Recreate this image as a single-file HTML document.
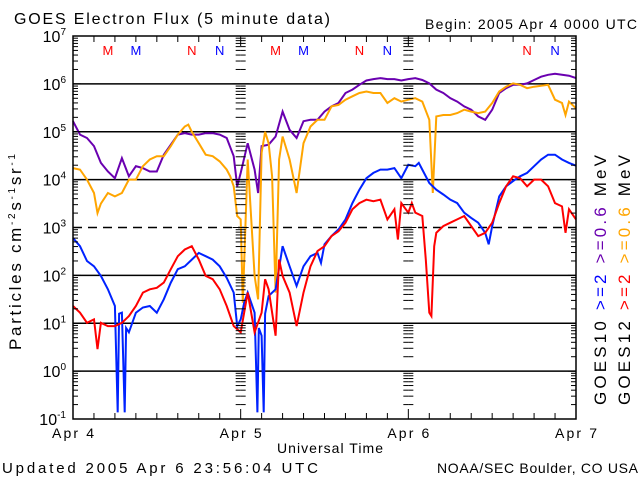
<!DOCTYPE html>
<html><head><meta charset="utf-8">
<style>
html,body{margin:0;padding:0;background:#fff;}
svg{display:block;font-family:"Liberation Sans",sans-serif;}
</style></head>
<body>
<svg id="chart" width="640" height="480" viewBox="0 0 640 480">
  <text x="14" y="24" font-size="16" textLength="316" lengthAdjust="spacing">GOES Electron Flux (5 minute data)</text>
  <text x="425" y="29" font-size="14" textLength="212" lengthAdjust="spacing">Begin: 2005 Apr 4 0000 UTC</text>
  <text transform="translate(21,350) rotate(-90)" font-size="17" textLength="196" lengthAdjust="spacing">Particles cm<tspan font-size="10" dy="-6">-2</tspan><tspan dy="6">s</tspan><tspan font-size="10" dy="-6">-1</tspan><tspan dy="6">sr</tspan><tspan font-size="10" dy="-6">-1</tspan></text>
  <text x="277" y="453" font-size="14" textLength="106" lengthAdjust="spacing">Universal Time</text>
  <text x="2" y="473" font-size="15" textLength="316" lengthAdjust="spacing">Updated 2005 Apr  6 23:56:04 UTC</text>
  <text x="437" y="473" font-size="14" textLength="201" lengthAdjust="spacing">NOAA/SEC Boulder, CO USA</text>
  <text transform="translate(606,405) rotate(-90)" font-size="17" textLength="250" lengthAdjust="spacing">GOES10  <tspan fill="#0000ff">&gt;=2</tspan> <tspan fill="#6a00b0">&gt;=0.6</tspan>  MeV</text>
  <text transform="translate(630,405) rotate(-90)" font-size="17" textLength="250" lengthAdjust="spacing">GOES12  <tspan fill="#ff0000">&gt;=2</tspan> <tspan fill="#ffa500">&gt;=0.6</tspan>  MeV</text>
  <g id="grid"></g>
  <g id="series"></g>
  <g id="axes"></g>
</svg>
<script>
// ---- data (hours since 2005 Apr 4 00:00 UTC, log10 flux) ----
const dayLabels = ["Apr 4","Apr 5","Apr 6","Apr 7"];
const decadeExps = [-1,0,1,2,3,4,5,6,7];
const markerLabels = ["M","M","N","N","M","M","N","N","N","N"];
const markerHours = [5,9,17,21,29,33,41,45,65,69];
const markerColors = ["#ff0000","#0000ff","#ff0000","#0000ff","#ff0000","#0000ff","#ff0000","#0000ff","#ff0000","#0000ff"];

const purpleT = [0,1,2,3,4,5,6,7,8,9,10,11,12,13,14,15,16,17,18,19,20,21,22,23,23.5,24,25,26,26.5,27,28,29,30,31,32,33,34,35,36,37,38,39,40,41,42,43,44,45,46,47,48,49,50,51,52,53,54,55,56,57,58,59,60,61,62,63,64,65,66,67,68,69,70,71,72];
const purpleLog = [5.22,4.94,4.87,4.7,4.35,4.17,4.03,4.45,4.07,4.28,4.24,4.17,4.17,4.52,4.73,4.94,4.97,4.94,4.94,4.97,4.97,4.94,4.87,4.49,3.86,4.14,4.76,4.21,3.72,4.7,4.73,4.9,5.42,5.04,4.87,5.22,5.25,5.25,5.42,5.53,5.6,5.81,5.88,5.98,6.07,6.1,6.12,6.1,6.1,6.07,6.1,6.12,6.08,6.01,5.88,5.81,5.7,5.63,5.53,5.46,5.32,5.25,5.46,5.81,5.91,5.98,5.98,6.01,6.08,6.15,6.19,6.21,6.19,6.17,6.12];

const orangeT = [0,1,2,3,3.5,4,5,6,7,8,9,10,11,12,13,14,15,16,16.5,17,18,19,20,21,22,22.5,23,23.5,24,24.3,25,26,26.5,27,27.5,28,28.5,29,29.5,30,31,32,33,34,35,36,37,38,39,40,41,42,43,44,45,46,47,48,49,50,51,51.5,52,53,54,55,56,57,58,59,60,61,62,63,64,65,66,67,68,69,70,70.5,71,72];
const orangeLog = [4.24,4.21,4.0,3.72,3.3,3.5,3.72,3.65,3.72,4.0,4.0,4.28,4.42,4.49,4.49,4.7,4.94,5.11,5.15,5.0,4.76,4.52,4.49,4.38,4.21,4.07,3.86,3.24,3.17,1.43,4.42,1.99,1.5,4.56,5.0,4.76,4.07,1.64,4.42,4.9,4.42,3.72,4.76,5.11,5.25,5.25,5.53,5.56,5.67,5.74,5.81,5.84,5.81,5.81,5.6,5.7,5.63,5.67,5.7,5.63,5.25,3.72,5.32,5.35,5.35,5.39,5.46,5.42,5.39,5.42,5.6,5.84,5.94,6.01,5.98,5.91,5.94,5.96,5.98,5.67,5.6,5.35,5.63,5.49];

const blueT = [0,1,2,3,4,5,6,6.4,6.6,7,7.4,7.6,8,9,10,11,12,13,14,15,16,17,18,19,20,21,22,23,23.5,24,24.5,25,26,26.4,26.6,27,27.3,27.5,28,29,30,31,32,33,34,35,35.5,36,37,38,39,40,41,42,43,44,45,46,47,48,49,49.5,50,51,52,53,54,55,56,57,58,59,59.5,60,61,62,63,64,65,66,67,68,69,70,71,72];
const blueLog = [2.78,2.61,2.3,2.19,1.99,1.71,1.36,-0.86,1.2,1.22,-0.86,0.9,0.81,1.22,1.33,1.36,1.22,1.5,1.85,2.13,2.19,2.33,2.47,2.4,2.33,2.19,1.95,1.64,0.94,1.08,1.43,1.64,1.22,-0.86,0.9,0.74,-0.86,1.2,1.57,1.71,2.61,2.19,1.78,2.19,2.4,2.47,2.26,2.65,2.82,2.96,3.17,3.51,3.79,4.03,4.14,4.21,4.21,4.24,4.03,4.31,4.28,4.35,4.21,3.93,3.79,3.69,3.58,3.51,3.31,3.2,3.1,2.89,2.65,3.03,3.65,3.86,3.97,4.07,4.14,4.28,4.42,4.52,4.52,4.42,4.35,4.29];

const redT = [0,1,2,3,3.5,4,5,6,7,8,9,10,11,12,13,14,15,16,17,18,19,20,21,22,23,24,25,26,27,27.5,28,29,29.5,30,31,32,33,34,35,36,37,38,39,40,41,42,43,44,45,46,46.5,47,48,48.5,49,50,50.5,51,51.3,51.7,52,53,54,55,56,57,58,59,60,61,62,63,64,65,66,67,68,69,70,70.5,71,72];
const redLog = [1.36,1.22,1.01,1.08,0.46,1.01,0.94,0.94,1.01,1.15,1.36,1.64,1.71,1.74,1.85,2.13,2.4,2.54,2.61,2.33,1.99,1.92,1.71,1.36,0.94,0.81,1.64,0.81,1.22,1.92,1.71,0.74,2.33,1.99,1.64,0.94,1.64,2.19,2.51,2.61,2.82,2.92,3.1,3.38,3.51,3.58,3.55,3.58,3.17,3.38,2.75,3.51,3.31,3.51,3.31,3.24,2.33,1.22,1.15,2.61,2.89,3.03,3.1,3.17,3.24,3.03,2.82,2.89,3.1,3.51,3.86,4.07,4.03,3.86,4.0,4.0,3.86,3.51,3.44,2.89,3.38,3.17];

// ---- axes ----
const X0 = 73, X1 = 576, Y0 = 419, Y1 = 36;
const TMAX = 72, LMIN = -1, LMAX = 7;
function xScale(h){ return X0 + (h / TMAX) * (X1 - X0); }
function yScale(l){ return Y0 - (l - LMIN) / (LMAX - LMIN) * (Y0 - Y1); }

const NS = "http://www.w3.org/2000/svg";
function mk(tag, attrs, parent){
  const e = document.createElementNS(NS, tag);
  for (const k in attrs) e.setAttribute(k, attrs[k]);
  parent.appendChild(e);
  return e;
}
const grid = document.getElementById('grid');
const axes = document.getElementById('axes');
const series = document.getElementById('series');

decadeExps.forEach(function(ex){
  const y = yScale(ex);
  if (ex > LMIN && ex < LMAX) {
    const ln = mk('line', {x1:X0, x2:X1, y1:y, y2:y, stroke:'#000', 'stroke-width':1.5}, grid);
    if (ex === 3) ln.setAttribute('stroke-dasharray', '9,6');
    
    
  }
  const t = mk('text', {x:66, y:y + 6, 'font-size':16, 'text-anchor':'end'}, axes);
  
  
  t.textContent = '10';
  const s = mk('tspan', {'font-size':10, dy:-7}, t);
  s.textContent = String(ex);
});

const tickXs = [X0, xScale(24), xScale(48), X1];
for (let ex = LMIN; ex < LMAX; ex++) {
  for (let m = 1; m <= 9; m++) {
    const y = yScale(ex + Math.log10(m));
    const len = (m === 1) ? 8 : 5;
    tickXs.forEach(function(tx, i){
      const dirs = (i === 0) ? [1] : (i === 3 ? [-1] : [1, -1]);
      dirs.forEach(function(d){
        const tk = mk('line', {x1:tx, x2:tx + d * len, y1:y, y2:y, stroke:'#000', 'stroke-width':1}, axes);
        
        
      });
    });
  }
}

for (let h = 0; h <= TMAX; h += 3) {
  const x = xScale(h);
  const len = (h % 24 === 0) ? 10 : 6;
  const tk = mk('line', {x1:x, x2:x, y1:Y0, y2:Y0 - len, stroke:'#000', 'stroke-width':1}, axes);
  
  
  const tk2 = mk('line', {x1:x, x2:x, y1:Y1, y2:Y1 + len, stroke:'#000', 'stroke-width':1}, axes);
  
  
}
dayLabels.forEach(function(lbl, i){
  const t = mk('text', {x:xScale(i * 24), y:438, 'font-size':14, 'text-anchor':'middle', textLength:42, lengthAdjust:'spacing'}, axes);
  
  
  t.textContent = lbl;
});

const fr = mk('rect', {x:X0, y:Y1, width:X1 - X0, height:Y0 - Y1, fill:'none', stroke:'#000', 'stroke-width':1.5}, axes);



markerLabels.forEach(function(lbl, i){
  const t = mk('text', {x:xScale(markerHours[i]), y:55, 'font-size':13, 'text-anchor':'middle', fill:markerColors[i]}, axes);
  
  
  t.textContent = lbl;
});

function drawSeries(ts, vals, color, name){
  let d = '';
  for (let i = 0; i < ts.length; i++) {
    d += (i ? 'L' : 'M') + xScale(ts[i]).toFixed(1) + ',' + yScale(vals[i]).toFixed(1);
  }
  const p = mk('path', {d:d, fill:'none', stroke:color, 'stroke-width':2, 'stroke-linejoin':'miter'}, series);
  
  
}
drawSeries(purpleT, purpleLog, '#6a00b0', 'series-goes10-0.6mev');
drawSeries(orangeT, orangeLog, '#ffa500', 'series-goes12-0.6mev');
drawSeries(blueT, blueLog, '#0022ff', 'series-goes10-2mev');
drawSeries(redT, redLog, '#ff0000', 'series-goes12-2mev');
</script>
</body></html>
